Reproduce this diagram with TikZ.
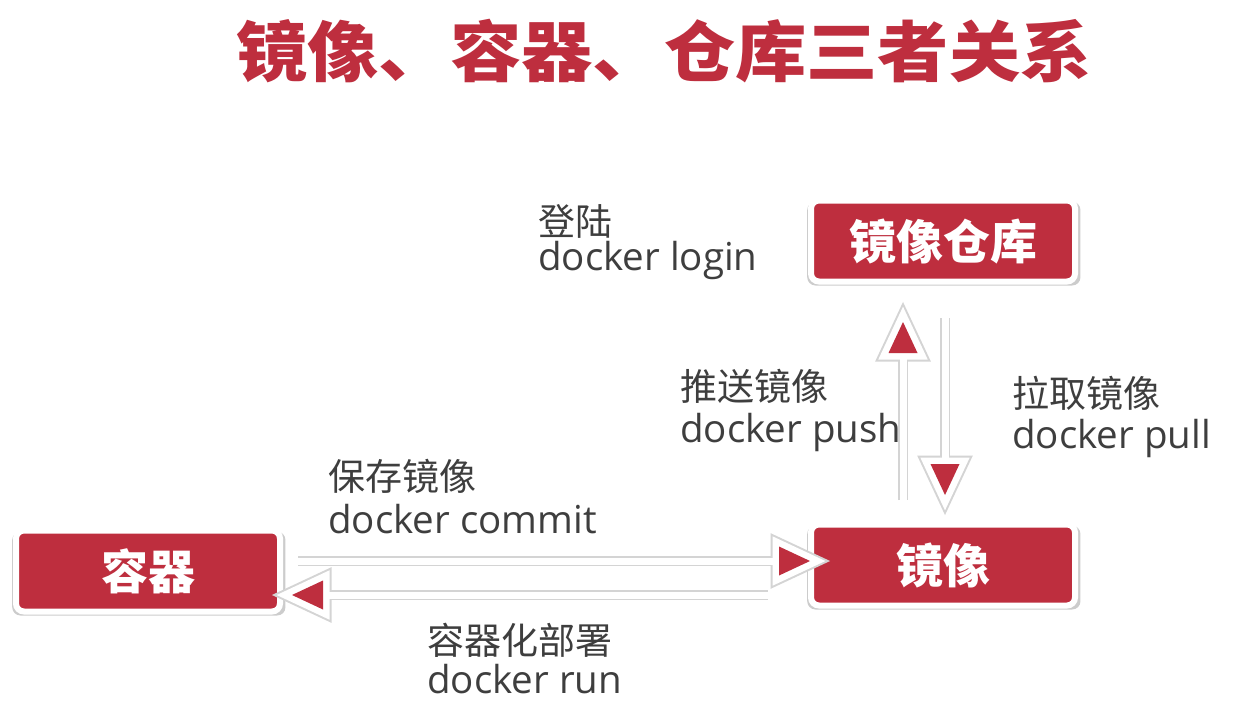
\documentclass[tikz,border=0pt]{standalone}
\usepackage{fontspec}
\usepackage{graphicx}
\setmainfont{Open Sans}
\newfontfamily\cjk{Noto Sans CJK SC}
\usetikzlibrary{calc,shadows}
\definecolor{boxred}{RGB}{190,46,62}
\definecolor{txtgray}{RGB}{62,62,62}
\definecolor{edgegray}{RGB}{212,212,212}
\begin{document}
\begin{tikzpicture}[x=1pt,y=-1pt,
  box/.style={fill=boxred, draw=white, line width=6pt, rounded corners=8pt,
    minimum width=264pt, minimum height=81pt, inner sep=0pt, text=white,
    font=\cjk\bfseries\fontsize{47}{50}\selectfont,
    drop shadow={shadow xshift=0.8pt, shadow yshift=-2.5pt, shadow scale=1.035, opacity=0.2, fill=black}},
  zh/.style={anchor=base west, inner sep=0pt, text=txtgray, font=\cjk\fontsize{37}{40}\selectfont},
  en/.style={anchor=base west, inner sep=0pt, text=txtgray, font=\fontsize{38.5}{42}\selectfont},
  shaftedge/.style={draw=edgegray, line width=10pt},
  shaftcore/.style={draw=white, line width=7pt},
  headedge/.pic={\filldraw[edgegray, line width=17pt, line join=miter] (0,0) -- (-31,14.5) -- (-31,-14.5) -- cycle;},
  headwhite/.pic={\filldraw[white, line width=13pt, line join=miter] (0,0) -- (-31,14.5) -- (-31,-14.5) -- cycle;},
  headred/.pic={\fill[boxred] (0,0) -- (-31,14.5) -- (-31,-14.5) -- cycle;}
]
\fill[white] (0,0) rectangle (1249,709);
\useasboundingbox (0,0) rectangle (1249,709);

\node[anchor=base, text=boxred, inner sep=0pt, font=\cjk\bfseries\fontsize{66}{70}\selectfont] (title) at (664,77) {\scalebox{1.08}[1]{镜像、容器、仓库三者关系}};

\node[box] (repo) at (943,241) {镜像仓库};
\node[box] (img) at (943,565) {镜像};
\node[box] (cont) at (148,571) {容器};

\node[zh] (l1z) at (538,235.5) {登陆};
\node[en] (l1e) at (538,270) {docker login};
\node[zh] (l2z) at (680,400.5) {推送镜像};
\node[en] (l2e) at (680,442) {docker push};
\node[zh] (l3z) at (1012,407.5) {拉取镜像};
\node[en] (l3e) at (1012,448) {docker pull};
\node[zh] (l4z) at (328,490.5) {保存镜像};
\node[en] (l4e) at (328,533) {docker commit};
\node[zh] (l5z) at (427,654.5) {容器化部署};
\node[en] (l5e) at (427,693) {docker run};

\coordinate (a1s) at ($(cont.east)+(15,-10)$);
\coordinate (a1t) at ($(img.west)+(2,-4)$);
\coordinate (a2s) at ($(img.west)+(-40,30)$);
\coordinate (a2t) at ($(cont.east)+(9,24)$);
\coordinate (a3s) at ($(img.north)+(-40,-21.5)$);
\coordinate (a3t) at ($(repo.south)+(-40,37.5)$);
\coordinate (a4s) at ($(repo.south)+(2,33.5)$);
\coordinate (a4t) at ($(img.north)+(2,-26.5)$);

% edge pass
\draw[shaftedge] (a1s) -- (a1t);
\draw[shaftedge] (a2s) -- (a2t);
\draw[shaftedge] (a3s) -- (a3t);
\draw[shaftedge] (a4s) -- (a4t);
\pic at (a1t) {headedge};
\pic[rotate=180] at (a2t) {headedge};
\pic[rotate=90] at (a3t) {headedge};
\pic[rotate=-90] at (a4t) {headedge};
% white pass
\draw[shaftcore] (a1s) -- (a1t);
\draw[shaftcore] (a2s) -- (a2t);
\draw[shaftcore] (a3s) -- (a3t);
\draw[shaftcore] (a4s) -- (a4t);
\pic at (a1t) {headwhite};
\pic[rotate=180] at (a2t) {headwhite};
\pic[rotate=90] at (a3t) {headwhite};
\pic[rotate=-90] at (a4t) {headwhite};
% red pass
\pic at (a1t) {headred};
\pic[rotate=180] at (a2t) {headred};
\pic[rotate=90] at (a3t) {headred};
\pic[rotate=-90] at (a4t) {headred};
\end{tikzpicture}
\end{document}
